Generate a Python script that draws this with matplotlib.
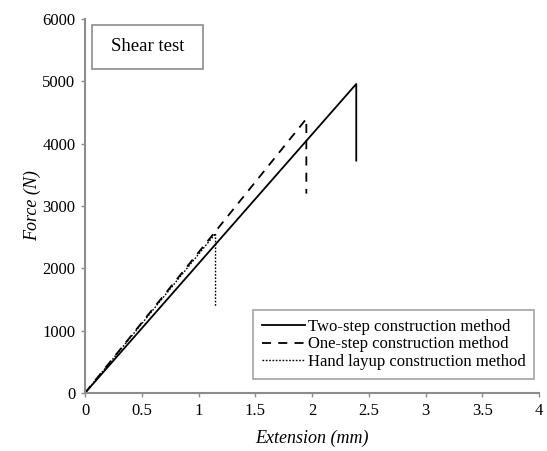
import matplotlib.pyplot as plt
from matplotlib.patches import Rectangle

# Force-extension curves
two_step_x = [0, 2.39, 2.39]
two_step_y = [0, 4960, 3730]
one_step_x = [0, 1.95, 1.95]
one_step_y = [0, 4400, 3200]
hand_x = [0, 1.15, 1.15]
hand_y = [0, 2560, 1400]

labels = ['Two-step construction method',
          'One-step construction method',
          'Hand layup construction method']

plt.rcParams.update({
    'font.family': 'Liberation Serif',
    'font.size': 12,
})

fig = plt.figure(figsize=(5.47, 4.51), dpi=100)
ax = fig.add_axes([0.1554, 0.1286, 0.830, 0.829])

ax.plot(two_step_x, two_step_y, color='black', lw=1.3, ls='-', label=labels[0])
ax.plot(one_step_x, one_step_y, color='black', lw=1.3, ls=(0, (5, 4)), label=labels[1])
ax.plot(hand_x, hand_y, color='black', lw=1.0, ls=(0, (1.2, 1.2)), label=labels[2])

ax.set_xlim(0, 4)
ax.set_ylim(0, 6000)
ax.set_xticks([0, 0.5, 1, 1.5, 2, 2.5, 3, 3.5, 4])
ax.set_xticklabels(['0', '0.5', '1', '1.5', '2', '2.5', '3', '3.5', '4'])
ax.set_yticks(range(0, 6001, 1000))

for side in ['top', 'right']:
    ax.spines[side].set_visible(False)
for side in ['left', 'bottom']:
    ax.spines[side].set_color('#8c8c8c')
    ax.spines[side].set_linewidth(1.5)
ax.tick_params(direction='out', length=3, width=1, color='#8c8c8c', labelsize=12, pad=4)

ax.set_xlabel('Extension (mm)', style='italic', fontsize=13, labelpad=8)
ax.set_ylabel('Force (N)', style='italic', fontsize=13, labelpad=1)

# "Shear test" label box
ax.add_patch(Rectangle((0.015, 0.867), 0.245, 0.118, transform=ax.transAxes,
                       fill=False, edgecolor='#8c8c8c', lw=1.2))
ax.text(0.1375, 0.926, 'Shear test', transform=ax.transAxes,
        ha='center', va='center', fontsize=13.5)

leg = ax.legend(loc='lower right', bbox_to_anchor=(0.99, 0.037), fontsize=12,
                frameon=True, fancybox=False, edgecolor='#8c8c8c',
                handlelength=2.6, handletextpad=0.15, borderpad=0.55,
                labelspacing=0.1, borderaxespad=0)
leg.get_frame().set_linewidth(1.2)

plt.savefig('out.png', dpi=100)
